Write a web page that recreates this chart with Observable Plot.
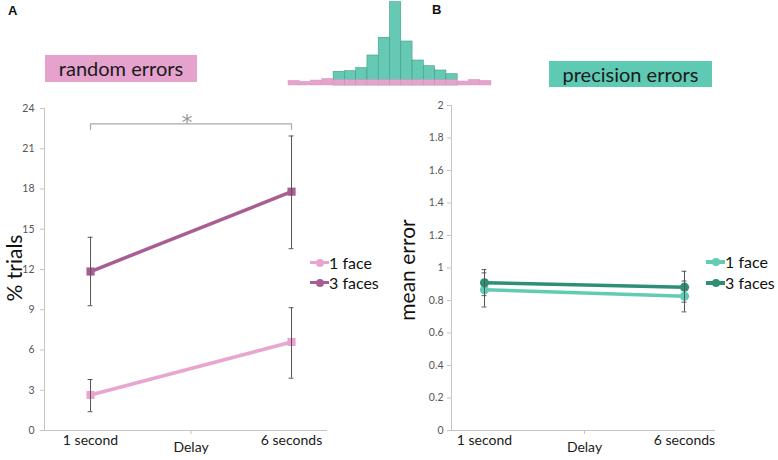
<!DOCTYPE html>
<html><head><meta charset="utf-8">
<script src="https://cdn.jsdelivr.net/npm/d3@7"></script>
<script src="https://cdn.jsdelivr.net/npm/@observablehq/plot@0.6"></script>
<style>
body{margin:0;background:#fff;}
#wrap{position:relative;width:778px;height:460px;overflow:hidden;font-family:Lato,"Open Sans",sans-serif;color:#111;}
.panelLabel{font-family:"Liberation Sans",Arial,sans-serif;font-weight:bold;font-size:13px;line-height:13px;}
.box{text-align:center;font-size:20px;color:#1a1a1a;}
.ytitle{font-size:21px;line-height:25px;white-space:nowrap;writing-mode:vertical-rl;transform:translate(-50%,-50%) rotate(180deg);color:#111;}
.legtxt{font-size:16px;height:20px;line-height:20px;white-space:nowrap;color:#111;}
</style></head><body><div id="wrap"></div>
<script>
// ---- data ----
const delays = ["1 second", "6 seconds"];
const groups = ["1 face", "3 faces"];

const randomOneFace = [2.65, 6.6];
const randomOneFaceLo = [1.4, 3.9];
const randomOneFaceHi = [3.8, 9.15];
const randomThreeFaces = [11.85, 17.8];
const randomThreeFacesLo = [9.3, 13.55];
const randomThreeFacesHi = [14.4, 21.95];
const randomTicks = [0, 3, 6, 9, 12, 15, 18, 21, 24];
const sigBracketY = 22.85;
const sigBracketFoot = 22.45;

const precisionOneFace = [0.866, 0.826];
const precisionOneFaceLo = [0.76, 0.73];
const precisionOneFaceHi = [0.97, 0.92];
const precisionThreeFaces = [0.909, 0.882];
const precisionThreeFacesLo = [0.83, 0.79];
const precisionThreeFacesHi = [0.99, 0.98];
const precisionTicks = [0, 0.2, 0.4, 0.6, 0.8, 1, 1.2, 1.4, 1.6, 1.8, 2];

// error distribution histogram (relative heights)
const histRandom = [4.7, 3.7, 5, 6.7, 5.3, 5.3, 5.3, 5.3, 5.3, 5.3, 5.3, 5.3, 5.3, 5.3, 5.3, 4, 5.7, 4.7];
const histPrecision = [13.7, 14.3, 17.3, 30, 47.7, 83.3, 44, 25, 19.3, 15, 11.3];
const histPrecisionStart = 4;

const pinkColors = ["#e8a5cf", "#a85e92"];
const tealColors = ["#62cbb3", "#2e8f76"];

// ---- helpers ----
function rowsFrom(means, los, his) {
  const out = [];
  groups.forEach((g, gi) => {
    delays.forEach((d, i) => out.push({group: g, x: i, delay: d, value: means[gi][i], lo: los[gi][i], hi: his[gi][i]}));
  });
  return out;
}

const wrap = document.getElementById("wrap");
function place(el, left, top) { el.style.position = "absolute"; el.style.left = left + "px"; el.style.top = top + "px"; wrap.appendChild(el); }
function html(s, left, top, cls, style = "") { const d = document.createElement("div"); d.className = cls || ""; d.textContent = s; d.style.cssText = style; place(d, left, top); return d; }

function panel({rows, width, marginLeft, marginRight, marginTop, xDomain, yDomain, yTicks, colors, tickPadding, symbol, r, extra = []}) {
  return Plot.plot({
    width, height: 460, marginLeft, marginRight, marginTop, marginBottom: 30,
    style: {fontFamily: "Lato, 'Open Sans', sans-serif", background: "transparent", overflow: "visible"},
    x: {type: "linear", domain: xDomain, axis: null},
    y: {domain: yDomain, axis: null},
    color: {domain: groups, range: colors},
    marks: [
      Plot.ruleX([xDomain[0]], {stroke: "#c4c4c4"}),
      Plot.ruleY([yDomain[0]], {stroke: "#c4c4c4"}),
      Plot.axisY({ticks: yTicks, tickSize: 4, tickPadding, stroke: "#c4c4c4", fill: "#555", fontSize: 10.5, label: null, tickFormat: d => String(d)}),
      Plot.axisX({ticks: [0.5], tickSize: 4, stroke: "#c4c4c4", tickFormat: () => "", label: null}),
      Plot.axisX({ticks: [0, 1], tickSize: 0, tickPadding: 5, fill: "#1a1a1a", fontSize: 14, label: null, tickFormat: i => delays[i]}),
      Plot.text(["Delay"], {x: () => 0.5, frameAnchor: "bottom", dy: 21, fontSize: 14, fill: "#1a1a1a"}),
      ...extra,
      Plot.line(rows, {x: "x", y: "value", z: "group", stroke: "group", strokeWidth: 3.5}),
      Plot.dot(rows, {x: "x", y: "value", fill: "group", symbol, r}),
      Plot.ruleX(rows, {x: "x", y1: "lo", y2: "hi", stroke: "#555", strokeWidth: 1}),
      Plot.ruleY(rows, {y: "lo", x1: d => d.x - 0.012, x2: d => d.x + 0.012, stroke: "#555", strokeWidth: 1}),
      Plot.ruleY(rows, {y: "hi", x1: d => d.x - 0.012, x2: d => d.x + 0.012, stroke: "#555", strokeWidth: 1})
    ]
  });
}

// ---- panel A ----
const rowsA = rowsFrom([randomOneFace, randomThreeFaces], [randomOneFaceLo, randomThreeFacesLo], [randomOneFaceHi, randomThreeFacesHi]);
const bracket = [
  {x: 0, y: sigBracketFoot}, {x: 0, y: sigBracketY}, {x: 1, y: sigBracketY}, {x: 1, y: sigBracketFoot}
];
const plotA = panel({
  rows: rowsA, width: 390, marginLeft: 44, marginRight: 63, marginTop: 108,
  xDomain: [-0.229, 1.179], yDomain: [0, 24], yTicks: randomTicks, colors: pinkColors,
  tickPadding: 6, symbol: "square", r: 4.6,
  extra: [
    Plot.line(bracket, {x: "x", y: "y", stroke: "#aaa", strokeWidth: 1.2}),
    Plot.text(["*"], {x: () => 0.48, y: () => sigBracketY, dy: 6, lineAnchor: "bottom", fontSize: 22, fontFamily: "DejaVu Sans", fill: "#9a9a9a"})
  ]
});
place(plotA, 0, 0);

// ---- panel B ----
const rowsB = rowsFrom([precisionOneFace, precisionThreeFaces], [precisionOneFaceLo, precisionThreeFacesLo], [precisionOneFaceHi, precisionThreeFacesHi]);
const plotB = panel({
  rows: rowsB, width: 388, marginLeft: 61, marginRight: 63, marginTop: 105,
  xDomain: [-0.165, 1.155], yDomain: [0, 2], yTicks: precisionTicks, colors: tealColors,
  tickPadding: 4, symbol: "circle", r: 4.6
});
place(plotB, 390, 0);

// ---- histogram ----
const histRows = histRandom.map((v, i) => ({bin: i, v}));
const histRowsP = histPrecision.map((v, i) => ({bin: i + histPrecisionStart, v}));
const hist = Plot.plot({
  width: 203, height: 86, margin: 0, marginBottom: 1,
  style: {background: "transparent", overflow: "visible"},
  x: {domain: [0, histRandom.length], axis: null},
  y: {domain: [0, 85], axis: null},
  marks: [
    Plot.rectY(histRowsP, {x1: "bin", x2: d => d.bin + 1, y: "v", fill: "#66c9b3", stroke: "#3f9d89", strokeWidth: 0.6}),
    Plot.rectY(histRows, {x1: "bin", x2: d => d.bin + 1, y: "v", fill: "#e6a4cd", stroke: "#d890bd", strokeWidth: 0.4})
  ]
});
place(hist, 288, 0);

// ---- HTML text ----
html("A", 8, 4, "panelLabel");
html("B", 432, 3, "panelLabel");
html("random errors", 45, 55, "box", "width:152px;height:27px;line-height:27px;background:#e4a2cc;");
html("precision errors", 549, 61, "box", "width:163px;height:26px;line-height:26px;background:#5fcab3;");
html("% trials", 13, 268, "ytitle");
html("mean error", 406, 270, "ytitle");

function legend(x, ys, colors) {
  groups.forEach((g, i) => {
    const y = ys[i];
    html("", x, y - 1.75, "", `width:19px;height:3.5px;background:${colors[i]};`);
    html("", x + 5.5, y - 4, "", `width:8px;height:8px;border-radius:50%;background:${colors[i]};`);
    html(g, x + 19, y - 10, "legtxt");
  });
}
legend(310, [262.5, 282.5], pinkColors);
legend(706, [262, 283], tealColors);
</script></body></html>
